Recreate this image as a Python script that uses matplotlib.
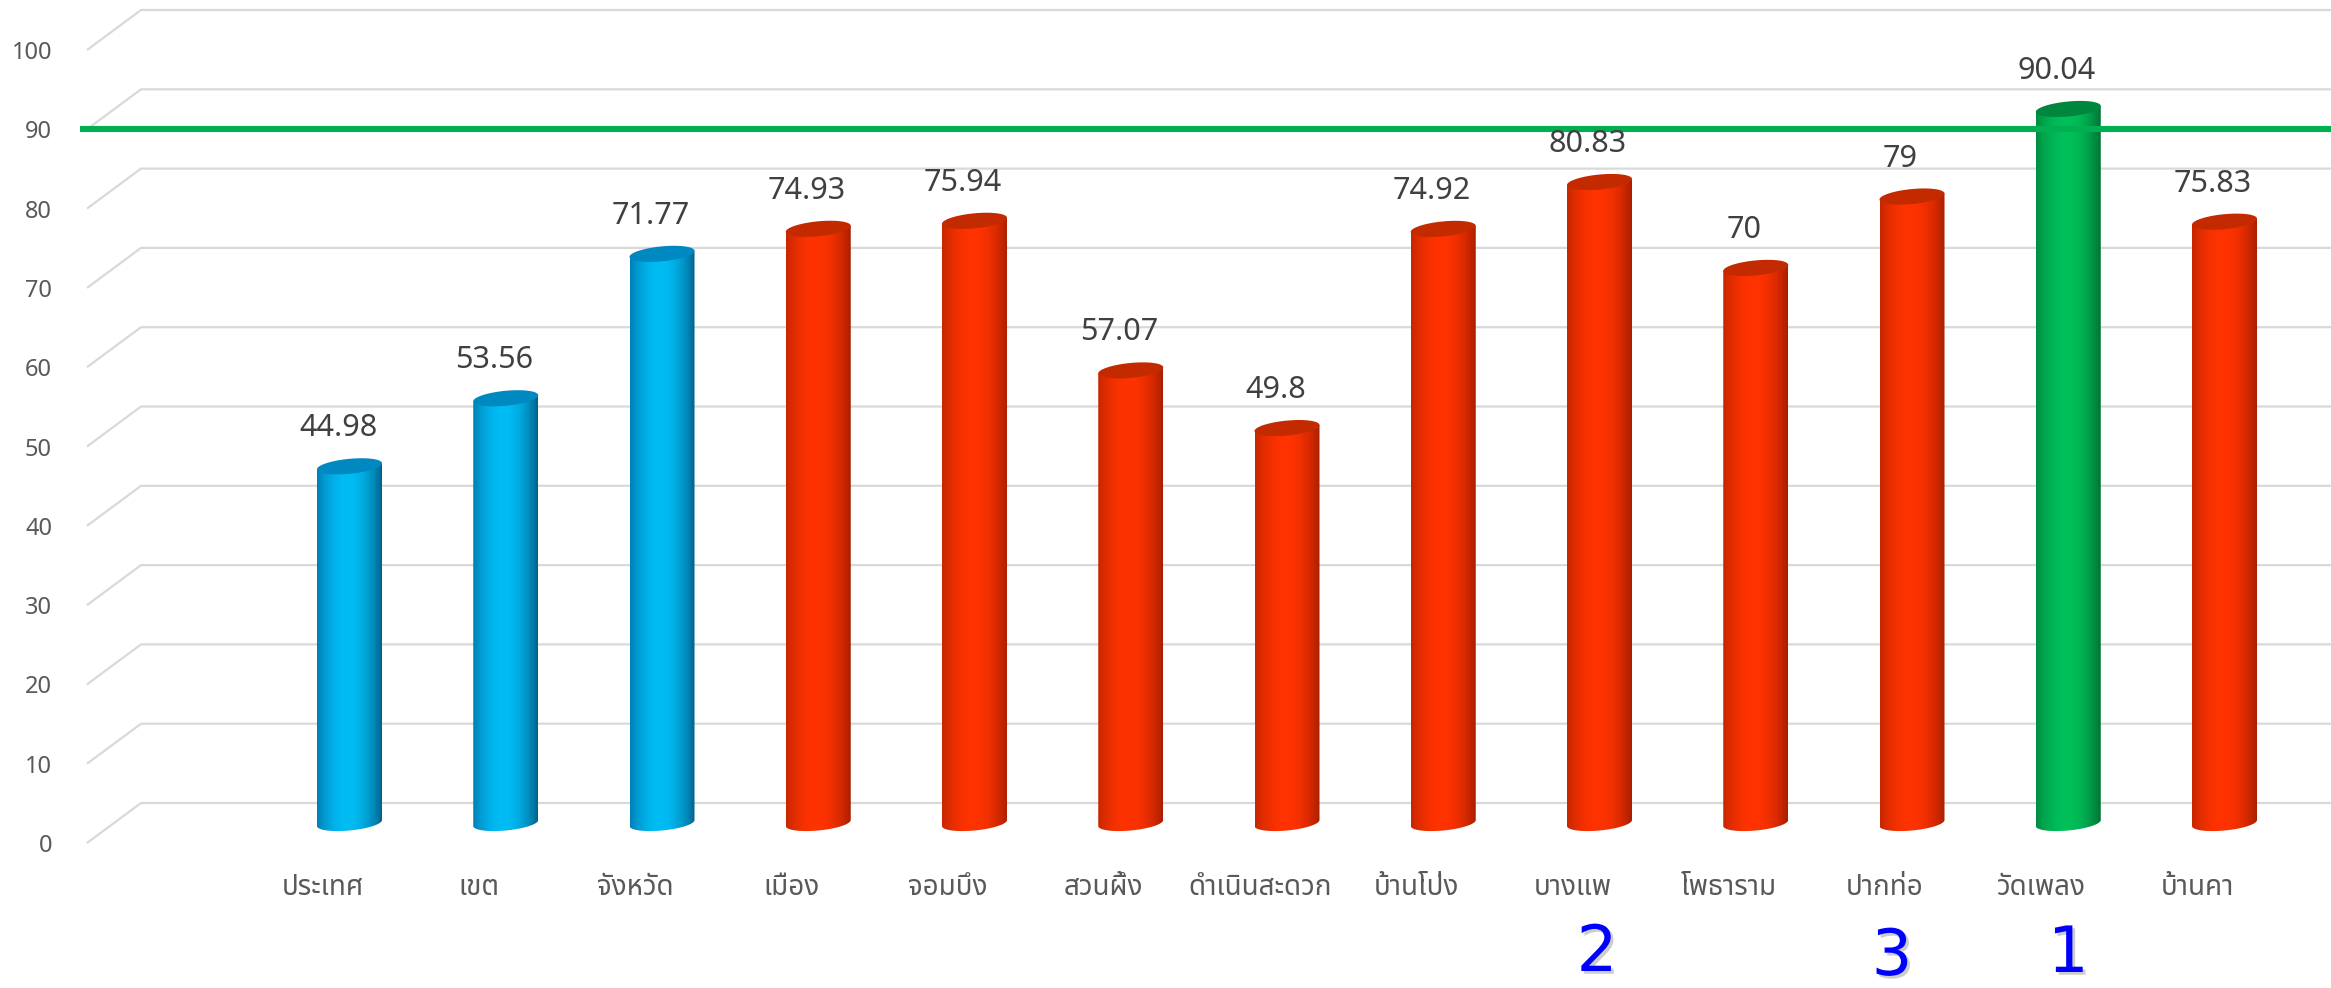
import numpy as np
import matplotlib
matplotlib.use('Agg')
import matplotlib.pyplot as plt
from matplotlib.patches import Polygon
from matplotlib import font_manager
import matplotlib.patheffects as pe
from matplotlib.colors import to_rgb
import matplotlib.transforms as mtransforms

# ---------------- data ----------------
categories = ["ประเทศ", "เขต", "จังหวัด", "เมือง", "จอมบึง", "สวนผึ้ง", "ดำเนินสะดวก",
              "บ้านโป่ง", "บางแพ", "โพธาราม", "ปากท่อ", "วัดเพลง", "บ้านคา"]
values = [44.98, 53.56, 71.77, 74.93, 75.94, 57.07, 49.8, 74.92, 80.83, 70, 79, 90.04, 75.83]
groups = ["blue", "blue", "blue", "red", "red", "red", "red", "red", "red", "red", "red", "green", "red"]
target = 90
rank_cats = ["บางแพ", "ปากท่อ", "วัดเพลง"]
rank_vals = ["2", "3", "1"]
yticks = list(range(0, 101, 10))

# ---------------- layout ----------------
W, H, DPI = 2331, 988, 100
fig = plt.figure(figsize=(W / DPI, H / DPI), dpi=DPI)
XPX, YPX = 156.25, 7.93
ax = fig.add_axes([(322.5 - 0.5 * XPX) / W, 145 / H, 13 * XPX / W, 100 * YPX / H])
ax.set_xlim(-0.5, 12.5)
ax.set_ylim(0, 100)
ax.patch.set_alpha(0)
for s in ax.spines.values():
    s.set_visible(False)

HW = 32.5 / XPX
EH = 7.5 / YPX
TILT = 3.0 / YPX
MDX, MDY = 27 / XPX, 20 / YPX
BDY = 40 / YPX

palette = {
    "blue": ("#007DB3", "#00BCF4", "#005E88", "#0088C0"),
    "red": ("#C42600", "#FF3300", "#A61E00", "#C42A00"),
    "green": ("#008A3F", "#00C05A", "#006E32", "#00873D"),
}

def shade(edgeL, center, edgeR, c=-0.05, n=256):
    t = np.linspace(-1, 1, n)
    L, C, R = np.array(to_rgb(edgeL)), np.array(to_rgb(center)), np.array(to_rgb(edgeR))
    out = np.zeros((n, 3))
    for k, tt in enumerate(t):
        if tt <= c:
            w = np.sin((tt + 1) / (c + 1) * np.pi / 2) ** 0.8
            out[k] = L + (C - L) * w
        else:
            w = np.sin((1 - tt) / (1 - c) * np.pi / 2) ** 0.8
            out[k] = R + (C - R) * w
    return out

# gridlines (3D floor/back wall)
blend = mtransforms.blended_transform_factory(fig.transFigure, ax.transData)
for v in yticks:
    ax.plot([87 / W, 141 / W, 1.0], [v, v + BDY, v + BDY], transform=blend,
            color="#D9D9D9", lw=1.6, zorder=1, clip_on=False, solid_capstyle='butt')

# cylinders
th_low = np.linspace(np.pi, 2 * np.pi, 60)
th_all = np.linspace(0, 2 * np.pi, 120)
for i, (v, g) in enumerate(zip(values, groups)):
    eL, cC, eR, top = palette[g]
    xc = i + MDX
    y0, y1 = MDY, v + MDY
    lx = xc + HW * np.cos(th_low)
    ly = y0 + EH * np.sin(th_low) + TILT * np.cos(th_low)
    body = np.vstack([np.column_stack([lx, ly]),
                      [[xc + HW, y1 + TILT], [xc - HW, y1 - TILT]]])
    poly = Polygon(body, closed=True, transform=ax.transData)
    grad = shade(eL, cC, eR)[None, :, :]
    im = ax.imshow(grad, extent=(xc - HW, xc + HW, y0 - EH - 1, y1 + 1),
                   aspect='auto', zorder=3, interpolation='bilinear')
    im.set_clip_path(poly)
    tx = xc + HW * np.cos(th_all)
    ty = y1 + EH * np.sin(th_all) + TILT * np.cos(th_all)
    ax.add_patch(Polygon(np.column_stack([tx, ty]), closed=True, facecolor=top,
                         edgecolor='none', zorder=4))
ax.set_xlim(-0.5, 12.5)
ax.set_ylim(0, 100)

# target line
ax.plot([80 / W, 1.0], [target, target], transform=blend, color="#00B050", lw=4.4,
        zorder=6, clip_on=False, solid_capstyle='butt')

# fonts
avail = {f.name for f in font_manager.fontManager.ttflist}
thai_pref = ["Leelawadee UI", "Tahoma", "Noto Sans Thai", "Sarabun", "Loma", "Garuda"]
thai_font = next((f for f in thai_pref if f in avail), "DejaVu Sans")
num_font = "Noto Sans"

# value labels
for i, v in enumerate(values):
    ax.annotate(f"{v:g}", xy=(i, v), xytext=(15.5, 58), textcoords='offset pixels',
                ha='center', va='center', fontsize=22, color="#404040",
                family=num_font, zorder=7, annotation_clip=False)

# axes ticks
ax.set_yticks(yticks)
ax.set_yticklabels([str(t) for t in yticks], family=num_font, fontsize=17, color="#595959")
ax.tick_params(axis='y', length=0, pad=(322.5 - 0.5 * XPX - 52) * 0.72)
ax.set_xticks(range(len(categories)))
ax.set_xticklabels(categories, family=[thai_font, "DejaVu Sans"], fontsize=20, color="#595959")
ax.tick_params(axis='x', length=0, pad=45 * 0.72)
for lbl in ax.get_xticklabels():
    lbl.set_va('center')

# rank numbers
rank_off = {"2": (24.5, -110), "3": (7, -114), "1": (27, -111)}
for cat, r in zip(rank_cats, rank_vals):
    i = categories.index(cat)
    ax.annotate(r, xy=(i, 0), xytext=rank_off[r], textcoords='offset pixels',
                ha='center', va='center', fontsize=46, color="#0000FF", family="DejaVu Sans",
                annotation_clip=False,
                path_effects=[pe.withSimplePatchShadow(offset=(2, -2), shadow_rgbFace='gray', alpha=0.4)])

fig.savefig("out.png", dpi=DPI)
